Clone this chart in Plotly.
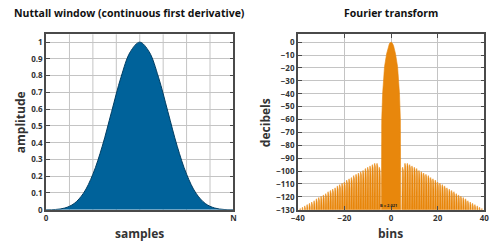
import plotly.graph_objects as go
from plotly.subplots import make_subplots

# ---- Left panel: window (sample position as fraction of N, amplitude)
win_pos = [0.0, 0.05, 0.10, 0.15, 0.20, 0.25, 0.30, 0.35, 0.40, 0.45, 0.50,
           0.55, 0.60, 0.65, 0.70, 0.75, 0.80, 0.85, 0.90, 0.95, 1.0]
win_amp = [0.0, 0.0015, 0.010, 0.037, 0.099, 0.212, 0.379, 0.586, 0.791, 0.943, 1.0,
           0.943, 0.791, 0.586, 0.379, 0.212, 0.099, 0.037, 0.010, 0.0015, 0.0]
win_ticks = [0, 1]
win_ticklabels = ["0", "N"]
amp_ticks = [0, 0.1, 0.2, 0.3, 0.4, 0.5, 0.6, 0.7, 0.8, 0.9, 1]
amp_ticklabels = ["0", "0.1", "0.2", "0.3", "0.4", "0.5", "0.6", "0.7", "0.8", "0.9", "1"]

# ---- Right panel: spectrum
main_lobe_bins = [0, 0.25, 0.5, 0.75, 1.1, 1.5, 1.9, 2.8, 3.3, 3.6, 4.0, 4.15]
main_lobe_db = [0, -0.16, -0.65, -1.4, -3, -5.7, -9, -19, -29, -39.5, -60, -140]
sidelobe_bins = list(range(5, 40))
sidelobe_db = [-97, -94, -94, -95, -96, -97, -98, -99.5, -100.5, -101.5,
               -102.5, -103.5, -105, -106, -107, -108.5, -109.5, -110.5, -111.5, -113,
               -114, -115, -116, -117.5, -118.5, -119.5, -120.5, -121.5, -123, -124,
               -125, -126, -127, -128, -129]
bin_ticks = [-40, -20, 0, 20, 40]
db_ticks = [0, -10, -20, -30, -40, -50, -60, -70, -80, -90, -100, -110, -120, -130]
enbw_label = "B = 2.021"

# generic lobe outline (style: offset from lobe centre in bins, drop below lobe peak in dB)
LOBE_DX = [-0.5, -0.42, -0.3, -0.15, 0.0, 0.15, 0.3, 0.42, 0.5]
LOBE_DROP = [None, 8, 2.5, 0.6, 0, 0.6, 2.5, 8, None]
BASE = -145

BLUE = "#00629a"
BLUE_EDGE = "#003e63"
ORANGE = "#e8870c"
TXT = "#333333"
GRID = "#c4c4c4"
FRAME = "#4a4a4a"
FONT = "Open Sans"

fig = make_subplots(rows=1, cols=2)

fig.add_trace(go.Scatter(x=win_pos, y=win_amp, mode="lines", line=dict(color=BLUE_EDGE, width=1, shape="spline"),
                         fill="tozeroy", fillcolor=BLUE, showlegend=False, hoverinfo="skip"), row=1, col=1)

# main lobe polygon (mirror of one side)
ml_x = [-b for b in main_lobe_bins[::-1]] + main_lobe_bins[1:]
ml_y = main_lobe_db[::-1] + main_lobe_db[1:]
fig.add_trace(go.Scatter(x=ml_x, y=ml_y, mode="lines", line=dict(color=ORANGE, width=0.6),
                         fill="toself", fillcolor=ORANGE, showlegend=False, hoverinfo="skip"), row=1, col=2)

# side lobes: one outline per lobe, built from the read peak levels
centres = [-b for b in sidelobe_bins[::-1]] + sidelobe_bins
peaks = sidelobe_db[::-1] + sidelobe_db
sx, sy = [], []
for c, p in zip(centres, peaks):
    for dx, drop in zip(LOBE_DX, LOBE_DROP):
        sx.append(c + dx)
        sy.append(BASE if drop is None else p - drop)
    sx.append(None)
    sy.append(None)
fig.add_trace(go.Scatter(x=sx, y=sy, mode="lines", line=dict(color=ORANGE, width=0.5),
                         fill="toself", fillcolor=ORANGE, showlegend=False, hoverinfo="skip"), row=1, col=2)

axis_common = dict(showline=True, linecolor=FRAME, linewidth=1.5, mirror="ticks",
                   showgrid=True, gridcolor=GRID, gridwidth=1, zeroline=False,
                   ticks="inside", ticklen=4, tickcolor=FRAME, tickwidth=1,
                   tickfont=dict(family=FONT, size=8, color=TXT, weight="bold"))

fig.update_xaxes(domain=[40/500, 232/500], range=[0, 1], tickvals=win_ticks, ticktext=win_ticklabels,
                 row=1, col=1, **axis_common)
fig.update_yaxes(domain=[1-214/250, 1-35/250], range=[0, 1.047], tickvals=amp_ticks, ticktext=amp_ticklabels,
                 row=1, col=1, **axis_common)
fig.update_xaxes(domain=[298/500, 489/500], range=[-40, 40], tickvals=bin_ticks, row=1, col=2, **axis_common)
fig.update_yaxes(domain=[1-214/250, 1-35/250], range=[-130, 6.1], tickvals=db_ticks, row=1, col=2, **axis_common)

# vertical gridlines for left panel (8 divisions), only 0 and N labelled
for i in range(1, 8):
    fig.add_shape(type="line", xref="x", yref="y domain", x0=i/8, x1=i/8, y0=0, y1=1,
                  line=dict(color=GRID, width=1), layer="below")

def label(text, x, y, size, angle=0, color=TXT):
    fig.add_annotation(text=text, x=x, y=y, xref="paper", yref="paper", showarrow=False,
                       textangle=angle, xanchor="center", yanchor="middle",
                       font=dict(family=FONT, size=size, color=color, weight="bold"))

label("Nuttall window (continuous first derivative)", 125/500, 1-13/250, 10.5, color="#111111")
label("Fourier transform", 393/500, 1-13/250, 10.5, color="#111111")
label("samples", 136/500, 1-238/250, 12)
label("bins", 393/500, 1-238/250, 12)
label("amplitude", 14/500, 1-125/250, 12, -90)
label("decibels", 265/500, 1-125/250, 12, -90)
fig.add_annotation(text=enbw_label, x=-1, y=-126.5, xref="x2", yref="y2", showarrow=False,
                   font=dict(family=FONT, size=4, color="#222222", weight="bold"))

fig.update_layout(width=500, height=250, margin=dict(l=0, r=0, t=0, b=0),
                  paper_bgcolor="white", plot_bgcolor="white")
fig.write_html("out.html")
